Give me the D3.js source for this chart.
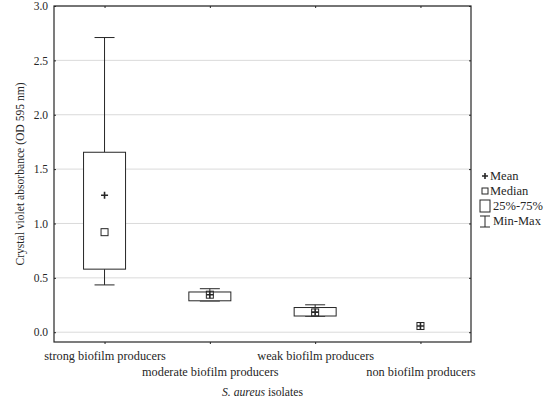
<!DOCTYPE html>
<html>
<head>
<meta charset="utf-8">
<script src="https://cdn.jsdelivr.net/npm/d3@7"></script>
<style>
    body { margin: 0; background: #fff; }
    svg { display: block; font-family: 'Liberation Serif', 'Times New Roman', serif; }
</style>
</head>
<body>
<div id="chart"></div>
<script>
// box-plot values (OD 595 nm)
const categories = [
    'strong biofilm producers',
    'moderate biofilm producers',
    'weak biofilm producers',
    'non biofilm producers',
];
const mins = [0.435, 0.287, 0.147, 0.057];
const q1s = [0.58, 0.289, 0.149, 0.057];
const medians = [0.92, 0.345, 0.182, 0.057];
const means = [1.26, 0.345, 0.185, 0.057];
const q3s = [1.655, 0.37, 0.227, 0.057];
const maxs = [2.71, 0.4, 0.252, 0.057];
const yTicks = [0, 0.5, 1, 1.5, 2, 2.5, 3];

const width = 550;
const height = 402;
const margin = { top: 6, right: 79, bottom: 60, left: 54 };
const ink = '#262626';

const svg = d3
    .select('#chart')
    .append('svg')
    .attr('width', width)
    .attr('height', height);

const x = d3
    .scalePoint()
    .domain(categories)
    .range([margin.left, width - margin.right])
    .padding(0.48);

const y = d3
    .scaleLinear()
    .domain([-0.09, 3])
    .range([height - margin.bottom, margin.top]);

// grid
svg.append('g')
    .selectAll('line')
    .data(yTicks)
    .join('line')
    .attr('x1', margin.left)
    .attr('x2', width - margin.right)
    .attr('y1', d => y(d))
    .attr('y2', d => y(d))
    .attr('stroke', '#dadada')
    .attr('stroke-width', 1);

// axes
const yAxis = svg
    .append('g')
    .attr('transform', `translate(${margin.left},0)`)
    .call(d3.axisLeft(y).tickValues(yTicks).tickFormat(d3.format('.1f')).tickSizeInner(-2).tickSizeOuter(0).tickPadding(6));
yAxis.select('.domain').remove();
yAxis.selectAll('text').attr('font-size', 11.5).attr('font-family', 'Liberation Serif').attr('fill', ink);
yAxis.selectAll('line').attr('stroke', ink);

const yAxisR = svg
    .append('g')
    .attr('transform', `translate(${width - margin.right},0)`)
    .call(d3.axisRight(y).tickValues(yTicks).tickFormat('').tickSizeInner(-2).tickSizeOuter(0));
yAxisR.select('.domain').remove();
yAxisR.selectAll('line').attr('stroke', ink);

const xAxis = svg
    .append('g')
    .attr('transform', `translate(0,${height - margin.bottom})`)
    .call(d3.axisBottom(x).tickSizeInner(2).tickSizeOuter(0).tickPadding(9));
xAxis.select('.domain').remove();
xAxis.selectAll('line').attr('stroke', ink);
xAxis
    .selectAll('text')
    .attr('font-size', 12.3)
    .attr('font-family', 'Liberation Serif')
    .attr('fill', ink)
    .attr('dy', (d, i) => (i % 2 ? '1.85em' : '0.55em'));

const xAxisT = svg
    .append('g')
    .attr('transform', `translate(0,${margin.top})`)
    .call(d3.axisTop(x).tickFormat('').tickSizeInner(-2).tickSizeOuter(0));
xAxisT.select('.domain').remove();
xAxisT.selectAll('line').attr('stroke', ink);

// frame
svg.append('rect')
    .attr('x', margin.left)
    .attr('y', margin.top)
    .attr('width', width - margin.left - margin.right)
    .attr('height', height - margin.top - margin.bottom)
    .attr('fill', 'none')
    .attr('stroke', ink)
    .attr('stroke-width', 1.2);

// boxes
const boxW = 42;
const capW = 20;
const stats = categories.map((c, i) => ({
    c,
    min: mins[i],
    q1: q1s[i],
    median: medians[i],
    mean: means[i],
    q3: q3s[i],
    max: maxs[i],
}));

const box = svg
    .append('g')
    .selectAll('g')
    .data(stats)
    .join('g')
    .attr('transform', d => `translate(${x(d.c)},0)`);

const spread = box.filter(d => d.max > d.min);

spread.append('line')
    .attr('y1', d => y(d.q3))
    .attr('y2', d => y(d.max))
    .attr('stroke', ink);
spread.append('line')
    .attr('y1', d => y(d.q1))
    .attr('y2', d => y(d.min))
    .attr('stroke', ink);
spread.append('line')
    .attr('x1', -capW / 2)
    .attr('x2', capW / 2)
    .attr('y1', d => y(d.max))
    .attr('y2', d => y(d.max))
    .attr('stroke', ink);
spread.append('line')
    .attr('x1', -capW / 2)
    .attr('x2', capW / 2)
    .attr('y1', d => y(d.min))
    .attr('y2', d => y(d.min))
    .attr('stroke', ink);
spread.append('rect')
    .attr('x', -boxW / 2)
    .attr('width', boxW)
    .attr('y', d => y(d.q3))
    .attr('height', d => y(d.q1) - y(d.q3))
    .attr('fill', '#fff')
    .attr('stroke', ink);

// median square
box.append('rect')
    .attr('x', -3.5)
    .attr('y', d => y(d.median) - 3.5)
    .attr('width', 7)
    .attr('height', 7)
    .attr('fill', 'none')
    .attr('stroke', ink);

// mean plus
box.append('path')
    .attr('d', d => `M-3.5,${y(d.mean)}H3.5M0,${y(d.mean) - 3.5}V${y(d.mean) + 3.5}`)
    .attr('stroke', ink)
    .attr('stroke-width', 1.6);

// legend
const lg = svg.append('g').attr('transform', 'translate(485,0)').attr('fill', ink);
const lgText = ['Mean', 'Median', '25%-75%', 'Min-Max'];
const lgY = [176, 191, 206, 221];
lg.append('path')
    .attr('d', `M-3,${lgY[0]}H3M0,${lgY[0] - 3}V${lgY[0] + 3}`)
    .attr('stroke', ink)
    .attr('stroke-width', 1.6);
lg.append('rect')
    .attr('x', -3)
    .attr('y', lgY[1] - 3)
    .attr('width', 6)
    .attr('height', 6)
    .attr('fill', 'none')
    .attr('stroke', ink);
lg.append('rect')
    .attr('x', -5)
    .attr('y', lgY[2] - 6)
    .attr('width', 10)
    .attr('height', 12)
    .attr('fill', 'none')
    .attr('stroke', ink);
lg.append('path')
    .attr('d', `M-5,${lgY[3] - 5}H5M0,${lgY[3] - 5}V${lgY[3] + 6}M-5,${lgY[3] + 6}H5`)
    .attr('fill', 'none')
    .attr('stroke', ink);
lg.selectAll('text')
    .data(lgText)
    .join('text')
    .attr('x', (d, i) => (i < 2 ? 5 : 8))
    .attr('y', (d, i) => lgY[i])
    .attr('dy', '0.35em')
    .attr('font-size', 12.5)
    .text(d => d);

// axis titles
svg.append('text')
    .attr('transform', `translate(20,${(margin.top + height - margin.bottom) / 2}) rotate(-90)`)
    .attr('text-anchor', 'middle')
    .attr('dy', '0.35em')
    .attr('font-size', 11.6)
    .attr('fill', ink)
    .text('Crystal violet absorbance (OD 595 nm)');

const xt = svg.append('text')
    .attr('x', (margin.left + width - margin.right) / 2)
    .attr('y', 392)
    .attr('text-anchor', 'middle')
    .attr('dy', '0.35em')
    .attr('font-size', 11.7)
    .attr('fill', ink);
xt.append('tspan').attr('font-style', 'italic').text('S. aureus');
xt.append('tspan').text(' isolates');
</script>
</body>
</html>
